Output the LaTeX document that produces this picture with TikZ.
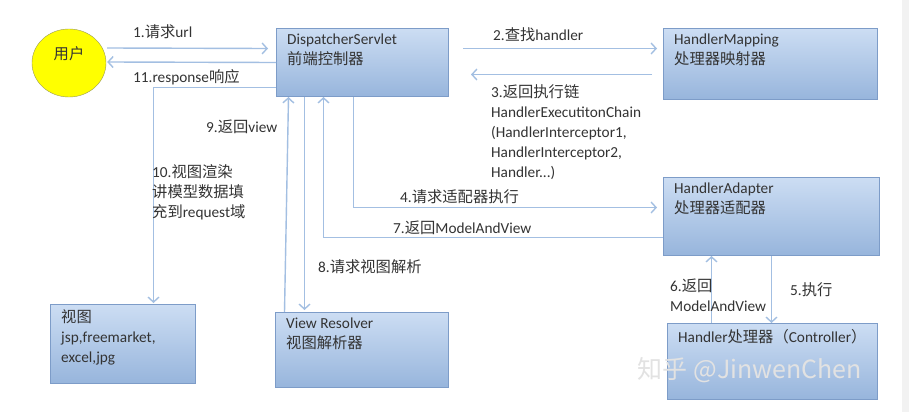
\documentclass[tikz,border=0pt]{standalone}
\usepackage{fontspec}
\setmainfont{Carlito}
\newfontfamily\cjk{Noto Sans CJK SC}
\newcommand{\zh}[1]{{\cjk #1}}
\usetikzlibrary{shapes.geometric,arrows.meta,calc}
\definecolor{boxtop}{HTML}{CCDDF3}
\definecolor{boxbottom}{HTML}{97B5DC}
\definecolor{boxline}{HTML}{7D9CC8}
\definecolor{flowline}{HTML}{A3BFE2}
\definecolor{txt}{HTML}{333333}
\definecolor{userfill}{HTML}{FFFF00}
\definecolor{userline}{HTML}{9A9A55}
\definecolor{strip}{HTML}{F2F2F2}
\definecolor{mark}{HTML}{E2E2E2}

\begin{document}
\begin{tikzpicture}[x=1pt,y=-1pt,
 every node/.style={font=\fontsize{15.3}{20}\selectfont,text=txt},
 box/.style={draw=boxline,line width=1pt,top color=boxtop,bottom color=boxbottom,
  anchor=north west,inner sep=0pt},
 boxtext/.style={anchor=north west,inner sep=0pt,align=left,xshift=11pt,yshift=-5.5pt,
  execute at begin node=\rule{0pt}{14pt}},
 lbl/.style={anchor=north west,inner sep=0pt,align=left,
  execute at begin node=\rule{0pt}{14pt}},
 flow/.style={draw=flowline,line width=1.4pt,-{Straight Barb[length=5pt,width=11pt]}}]
 \fill[white] (0,0) rectangle (909,412);
 \fill[strip] (902,0) rectangle (909,412);
 \useasboundingbox (0,0) rectangle (909,412);
 % user and boxes
 \node[ellipse,draw=userline,fill=userfill,minimum width=74pt,minimum height=68pt,
  label={[inner sep=0pt,yshift=9pt]center:\zh{用户}}] (user) at (69,63) {};
 \node[box,minimum width=172pt,minimum height=68pt,
  label={[boxtext]north west:{DispatcherServlet\\\zh{前端控制器}}}] (disp) at (276,28) {};
 \node[box,minimum width=214pt,minimum height=71pt,
  label={[boxtext]north west:{HandlerMapping\\\zh{处理器映射器}}}] (map) at (663,28) {};
 \node[box,minimum width=216pt,minimum height=78pt,
  label={[boxtext]north west:{HandlerAdapter\\\zh{处理器适配器}}}] (adapt) at (663,177) {};
 \node[box,minimum width=210pt,minimum height=76pt,
  label={[boxtext]north west:{Handler\zh{处理器（}Controller\zh{）}}}] (handler) at (667,323) {};
 \node[box,minimum width=145pt,minimum height=79pt,
  label={[boxtext]north west:{\zh{视图}\\jsp,freemarket,\\excel,jpg}}] (view) at (50,304) {};
 \node[box,minimum width=173pt,minimum height=75pt,
  label={[boxtext]north west:{View Resolver\\\zh{视图解析器}}}] (resolver) at (275,312) {};
 % flows
 \draw[flow] ($(user.east)+(1,-15)$) -- ($(disp.west)+(-8,-14)$);
 \draw[flow] (disp.west) -- ($(user.east)+(1,-1)$);
 \draw[flow] ($(disp.east)+(14,-14)$) -- ($(map.west)+(-6,-15.5)$);
 \draw[flow] ($(map.west)+(-11,10.5)$) -- ($(disp.east)+(22,12)$);
 \draw[flow] ($(disp.south)+(-9,0)$) |- ($(adapt.west)+(-6,-9)$);
 \draw[flow] (adapt.south) -- (adapt.south |- handler.north);
 \draw[flow] ($(handler.north)+(-61,0)$) -- ($(adapt.south)+(-60,0)$);
 \draw[flow] ($(adapt.west)+(0,21)$) -| ($(disp.south)+(-39,0)$);
 \draw[flow] ($(disp.south)+(-58,0)$) -- ($(resolver.north)+(-57.5,-2)$);
 \draw[flow] ($(resolver.north)+(-77.5,0)$) -- ($(disp.south)+(-74,0)$);
 \draw[flow] ($(disp.west)+(0,25)$) -| ($(view.north)+(30.5,-1)$);
 % labels
 \node[lbl] (l1) at (133,23.5) {1.\zh{请求}url};
 \node[lbl] (l11) at (133,68.5) {11.response\zh{响应}};
 \node[lbl] (l2) at (493,26.5) {2.\zh{查找}handler};
 \node[lbl] (l3) at (491,84.5) {3.\zh{返回执行链}\\HandlerExecutitonChain\\(HandlerInterceptor1,\\HandlerInterceptor2,\\Handler...)};
 \node[lbl] (l4) at (400,188.5) {4.\zh{请求适配器执行}};
 \node[lbl] (l5) at (790,281.5) {5.\zh{执行}};
 \node[lbl] (l6) at (670,278.5) {6.\zh{返回}\\ModelAndView};
 \node[lbl] (l7) at (393,219.5) {7.\zh{返回}ModelAndView};
 \node[lbl] (l8) at (318,258.5) {8.\zh{请求视图解析}};
 \node[lbl] (l9) at (206,118.5) {9.\zh{返回}view};
 \node[lbl] (l10) at (152,164.5) {10.\zh{视图渲染}\\\zh{讲模型数据填}\\\zh{充到}request\zh{域}};
 \node[font=\cjk\fontsize{25}{25}\selectfont,text=mark] (wm) at (750,370) {知乎 @JinwenChen};
\end{tikzpicture}
\end{document}
